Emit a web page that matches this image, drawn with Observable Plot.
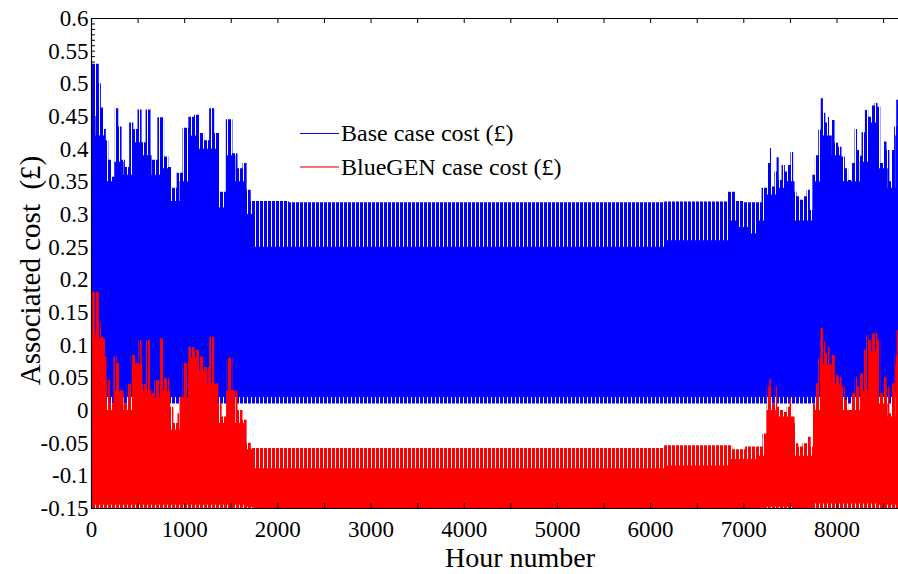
<!DOCTYPE html>
<html><head><meta charset="utf-8">
<script src="https://cdn.jsdelivr.net/npm/d3@7"></script>
<script src="https://cdn.jsdelivr.net/npm/@observablehq/plot@0.6"></script>
<style>
html,body{margin:0;padding:0;background:#fff;}
#wrap{position:relative;width:898px;height:574px;font-family:"Liberation Serif","Times New Roman",serif;overflow:hidden;}
#wrap svg text{font-family:"Liberation Serif","Times New Roman",serif;}
.leg{position:absolute;left:300px;height:24px;font-size:24px;line-height:24px;display:flex;align-items:center;white-space:nowrap;color:#000;}
.leg .l{display:inline-block;width:39px;margin-right:2px;}
</style></head><body>
<svg width="0" height="0" style="position:absolute">
<defs>
<pattern id="bstripe" patternUnits="userSpaceOnUse" width="4" height="8"><rect x="0" y="0" width="3" height="8" fill="#0000ff"/></pattern>
<pattern id="rstripe" patternUnits="userSpaceOnUse" width="4" height="8"><rect x="0" y="0" width="3" height="8" fill="#ff0000"/></pattern>
</defs></svg>
<div id="wrap"></div>
<script>
// ---- data ----
// Base case cost: upper envelope (daily peaks) sampled at irregular hours
const blueHours = [0,20,70,97,115,150,168,204,236,275,311,345,383,436,472,526,560,612,666,758,812,848,883,955,1009,1080,1134,1188,1241,1295,1349,1402,1491,1545,1599,1652,1688,1740,2500,4000,5500,6803,6856,6964,7035,7142,7250,7276,7296,7320,7347,7367,7393,7428,7464,7493,7517,7553,7589,7625,7661,7697,7732,7750,7786,7822,7840,7868,7893,7911,7929,7958,8000,8036,8072,8108,8143,8179,8208,8233,8251,8287,8323,8358,8394,8423,8458,8483,8519,8555,8580,8609,8627,8655,8760];
const bluePeak  = [0.45,0.53,0.53,0.50,0.463,0.43,0.413,0.383,0.357,0.462,0.434,0.383,0.372,0.44,0.43,0.46,0.41,0.46,0.383,0.448,0.388,0.372,0.34,0.363,0.432,0.449,0.452,0.424,0.413,0.462,0.424,0.334,0.445,0.393,0.37,0.378,0.337,0.32,0.318,0.318,0.318,0.319,0.334,0.32,0.318,0.318,0.34,0.378,0.401,0.342,0.365,0.387,0.352,0.375,0.365,0.375,0.395,0.334,0.327,0.322,0.327,0.337,0.306,0.36,0.39,0.429,0.477,0.455,0.44,0.449,0.403,0.444,0.409,0.403,0.388,0.37,0.352,0.378,0.43,0.398,0.389,0.425,0.459,0.449,0.466,0.47,0.464,0.378,0.411,0.398,0.35,0.398,0.434,0.475,0.475];
const blueMin = 0.01;

// BlueGEN case cost: upper envelope
const redHours = [0,20,70,97,115,150,183,222,258,293,329,365,400,454,490,526,561,615,651,705,758,812,866,901,955,1009,1080,1134,1188,1241,1295,1349,1384,1420,1491,1545,1599,1652,1688,1742,2500,4000,5500,6800,6964,7071,7178,7232,7267,7293,7321,7350,7375,7410,7446,7482,7511,7536,7572,7607,7661,7708,7739,7757,7786,7815,7840,7868,7893,7914,7936,7965,8000,8036,8072,8108,8143,8179,8208,8233,8269,8305,8330,8358,8387,8423,8458,8483,8519,8555,8580,8609,8636,8655,8760];
const redPeak  = [0.12,0.181,0.181,0.135,0.112,0.082,0.046,0.01,0.082,0.072,0.03,0.01,0.04,0.084,0.072,0.107,0.04,0.107,0.026,0.046,0.11,0.049,0.005,-0.02,-0.005,0.072,0.097,0.092,0.082,0.066,0.112,0.041,0.01,-0.01,0.08,0.03,0.0,-0.015,-0.05,-0.058,-0.058,-0.058,-0.058,-0.054,-0.06,-0.056,-0.056,-0.036,0.036,0.048,0.01,0.036,0.005,0.0,-0.003,0.005,0.018,-0.02,-0.051,-0.056,-0.051,-0.041,-0.056,0.01,0.041,0.079,0.125,0.105,0.087,0.097,0.051,0.084,0.054,0.051,0.036,0.015,0.0,0.026,0.051,0.036,0.056,0.092,0.115,0.107,0.117,0.118,0.107,0.026,0.051,0.036,-0.005,0.041,0.084,0.122,0.122];
const redMin = -0.15;

// dense core band of each series (where the trace is solid)
const coreHours   = [0,100,200,300,400,500,600,700,800,900,1000,1100,1200,1300,1400,1500,1600,1700,1800,2500,4000,5500,6800,6900,7000,7100,7200,7300,7400,7500,7600,7700,7800,7900,8000,8100,8200,8300,8400,8500,8600,8660,8760];
const blueCoreTop = [0.45,0.42,0.35,0.38,0.36,0.41,0.39,0.36,0.37,0.32,0.35,0.42,0.40,0.40,0.31,0.39,0.35,0.30,0.25,0.25,0.25,0.25,0.26,0.29,0.28,0.27,0.29,0.33,0.34,0.35,0.29,0.29,0.35,0.42,0.39,0.35,0.35,0.38,0.44,0.37,0.34,0.42,0.42];
const blueCoreLow = [0.02,0.02,0.02,0.02,0.02,0.02,0.02,0.02,0.02,0.02,0.02,0.02,0.02,0.02,0.02,0.02,0.02,0.02,0.02,0.02,0.02,0.02,0.02,0.02,0.02,0.02,0.02,0.02,0.02,0.02,0.02,0.02,0.02,0.02,0.02,0.02,0.02,0.02,0.02,0.02,0.02,0.02,0.02];
const redCoreTop  = [0.12,0.11,0.0,0.03,0.0,0.07,0.03,0.02,0.03,-0.03,0.02,0.08,0.06,0.04,-0.02,0.03,-0.02,-0.06,-0.089,-0.089,-0.089,-0.089,-0.085,-0.075,-0.075,-0.075,-0.07,0.0,-0.01,-0.01,-0.07,-0.07,0.0,0.07,0.04,0.0,0.0,0.03,0.09,0.01,-0.01,0.07,0.07];
const redCoreLow  = [-0.145,-0.145,-0.145,-0.145,-0.145,-0.145,-0.145,-0.145,-0.145,-0.145,-0.145,-0.145,-0.145,-0.145,-0.145,-0.145,-0.145,-0.148,-0.15,-0.15,-0.15,-0.15,-0.15,-0.15,-0.15,-0.15,-0.15,-0.148,-0.148,-0.148,-0.15,-0.15,-0.143,-0.143,-0.143,-0.143,-0.143,-0.143,-0.143,-0.145,-0.145,-0.145,-0.145];

// axes
const xTickLabels = [0,1000,2000,3000,4000,5000,6000,7000,8000];
const xTickMarks  = [0,500,1000,1500,2000,2500,3000,3500,4000,4500,5000,5500,6000,6500,7000,7500,8000,8500];
const yTickLabels = [-0.15,-0.1,-0.05,0,0.05,0.1,0.15,0.2,0.25,0.3,0.35,0.4,0.45,0.5,0.55,0.6];
const yMinorTicks = d3.range(0, 91).map(i => -0.15 + i * 0.05 / 6);
const seriesNames = ["Base case cost (\u00a3)", "BlueGEN case cost (\u00a3)"];
const xLabel = "Hour number";
const yLabel = "Associated cost  (\u00a3)";

// ---- tables ----
const blueOuter = blueHours.map((h, i) => ({h, lo: blueMin, hi: bluePeak[i]}));
const redOuter  = redHours.map((h, i) => ({h, lo: redMin, hi: redPeak[i]}));
const core = coreHours.map((h, i) => ({h, bt: blueCoreTop[i], bl: blueCoreLow[i], rt: redCoreTop[i], rl: redCoreLow[i]}));

const font = "'Liberation Serif', 'Times New Roman', serif";
const chart = Plot.plot({
  width: 898, height: 574,
  marginLeft: 91, marginRight: 0, marginTop: 18, marginBottom: 66,
  style: {fontFamily: font, background: "white", color: "black"},
  x: {domain: [0, 8660]},
  y: {domain: [-0.15, 0.6]},
  marks: [
    Plot.tickY(yMinorTicks, {y: d => d, stroke: "#000", strokeWidth: 1, insetRight: 803}),
    Plot.areaY(blueOuter, {x: "h", y1: "lo", y2: "hi", curve: "step", fill: "url(#bstripe)", clip: true}),
    Plot.areaY(core, {x: "h", y1: "bl", y2: "bt", curve: "step", fill: "#0000ff", clip: true}),
    Plot.areaY(redOuter, {x: "h", y1: "lo", y2: "hi", curve: "step", fill: "url(#rstripe)", clip: true}),
    Plot.areaY(core, {x: "h", y1: "rl", y2: "rt", curve: "step", fill: "#ff0000", clip: true}),
    Plot.tickX(xTickMarks, {x: d => d, stroke: "#000", insetBottom: 485}),
    Plot.tickX(xTickMarks, {x: d => d, stroke: "#000", insetTop: 485}),
    Plot.ruleX([0], {stroke: "#000", strokeWidth: 1.2}),
    Plot.ruleY([0.6, -0.15], {stroke: "#000", strokeWidth: 1.2}),
    Plot.axisX({ticks: xTickLabels, tickSize: 0, tickPadding: 12, fontSize: 23, tickFormat: d => String(d), label: null}),
    Plot.axisY({ticks: yTickLabels, tickSize: 0, tickPadding: 3, fontSize: 23, tickFormat: d => String(+d.toFixed(2)).replace("\u2212", "-"), label: null}),
    Plot.text([xLabel], {frameAnchor: "bottom", textAnchor: "middle", lineAnchor: "middle", dx: 25, dy: 50, fontSize: 28, text: d => d, fill: "#000"}),
    Plot.text([yLabel], {frameAnchor: "left", textAnchor: "middle", lineAnchor: "middle", dx: -61, dy: 7, rotate: -90, fontSize: 29, text: d => d, fill: "#000"})
  ]
});
const wrap = document.getElementById("wrap");
wrap.appendChild(chart);
const colors = ["#0000ff", "#ff7070"];
const thick = ["1px", "2px"];
const tops = [121, 155];
seriesNames.forEach((name, i) => {
  const row = document.createElement("div");
  row.className = "leg";
  row.style.top = tops[i] + "px";
  const ln = document.createElement("span");
  ln.className = "l";
  ln.style.background = colors[i];
  ln.style.height = thick[i];
  row.appendChild(ln);
  row.appendChild(document.createTextNode(name));
  wrap.appendChild(row);
});
</script>
</body></html>
